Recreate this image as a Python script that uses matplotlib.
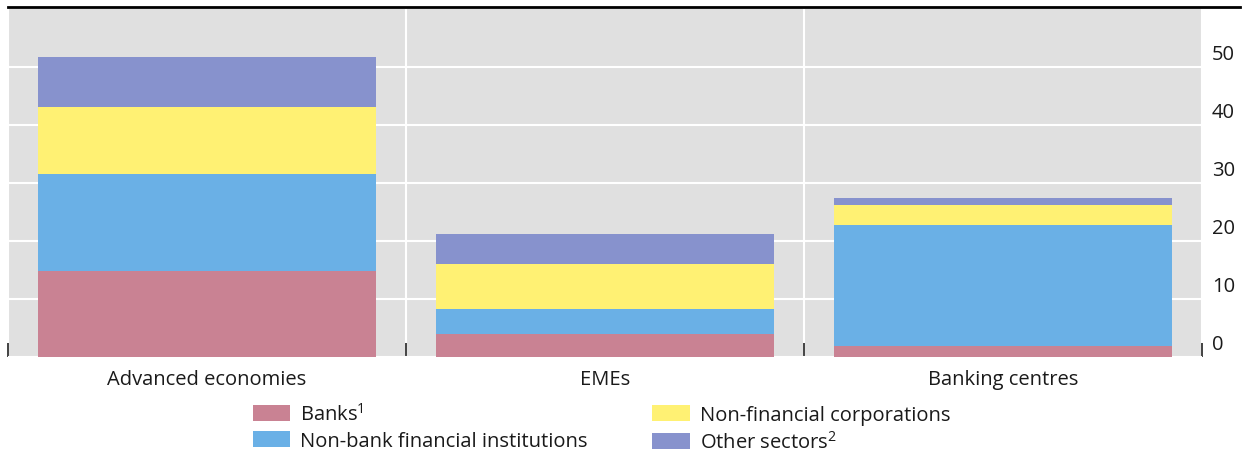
import matplotlib
matplotlib.use("Agg")
import matplotlib.pyplot as plt
from matplotlib.lines import Line2D
from matplotlib.patches import Patch
import numpy as np

# data
categories = ["Advanced economies", "EMEs", "Banking centres"]
banks = [14.9, 4.0, 1.9]
nonbank_fi = [16.6, 4.2, 20.9]
nonfin_corp = [11.6, 7.8, 3.4]
other_sectors = [8.6, 5.2, 1.3]
series_names = ["Banks$^1$", "Non-bank financial institutions",
                "Non-financial corporations", "Other sectors$^2$"]
yticks = [0, 10, 20, 30, 40, 50]

COLORS = ["#C98293", "#6AB0E6", "#FFF173", "#8792CD"]
BG = "#E0E0E0"
FS = 14.5

plt.rcParams["font.family"] = ["Open Sans", "DejaVu Sans"]
plt.rcParams["mathtext.fontset"] = "custom"
plt.rcParams["mathtext.rm"] = "Open Sans"

W, H = 1246, 452
fig = plt.figure(figsize=(W / 100, H / 100), dpi=100)
ax = fig.add_axes([8 / W, 1 - 358 / H, (1202 - 8) / W, (358 - 10) / H])
ax.set_facecolor(BG)

x = np.arange(len(categories))
bottom = np.zeros(len(categories))
for vals, col in zip([banks, nonbank_fi, nonfin_corp, other_sectors], COLORS):
    ax.bar(x, vals, width=0.85, bottom=bottom, color=col, zorder=3)
    bottom += np.array(vals)

ax.set_xlim(-0.5, 2.5)
ax.set_ylim(0, 60)

# horizontal white grid, labels on the right sitting above each line
ax.set_yticks(yticks)
ax.yaxis.grid(True, color="white", linewidth=1.5, zorder=1)
ax.tick_params(axis="y", length=0, labelleft=False, labelright=False)
for t in yticks:
    ax.text(1.0 + 10 / (1202 - 8), t + 0.5, str(t), transform=ax.get_yaxis_transform(),
            ha="left", va="bottom", fontsize=FS, color="#1a1a1a")

# category separators
ax.set_xticks(x)
ax.set_xticklabels(categories, fontsize=FS, color="#1a1a1a")
ax.tick_params(axis="x", length=0, pad=9)
ax.set_xticks([-0.5, 0.5, 1.5, 2.5], minor=True)
ax.xaxis.grid(True, which="minor", color="white", linewidth=1.5, zorder=1)
ax.tick_params(axis="x", which="minor", direction="in", length=10,
               width=1.2, color="#222222")
for s in ax.spines.values():
    s.set_visible(False)
ax.set_axisbelow(True)

# black rule at top
fig.add_artist(Line2D([8 / W, 1240 / W], [1 - 8 / H, 1 - 8 / H],
                      color="black", linewidth=2))

handles = [Patch(facecolor=c, edgecolor="none") for c in COLORS]
fig.legend(handles, series_names,
           ncol=2, loc="upper left", bbox_to_anchor=(253 / W, 1 - 404 / H),
           frameon=False, fontsize=FS, handlelength=1.85, handleheight=0.85,
           handletextpad=0.5, columnspacing=3.2, labelspacing=0.3,
           borderpad=0, borderaxespad=0, labelcolor="#1a1a1a")

fig.savefig("out.png", dpi=100, facecolor="white")
